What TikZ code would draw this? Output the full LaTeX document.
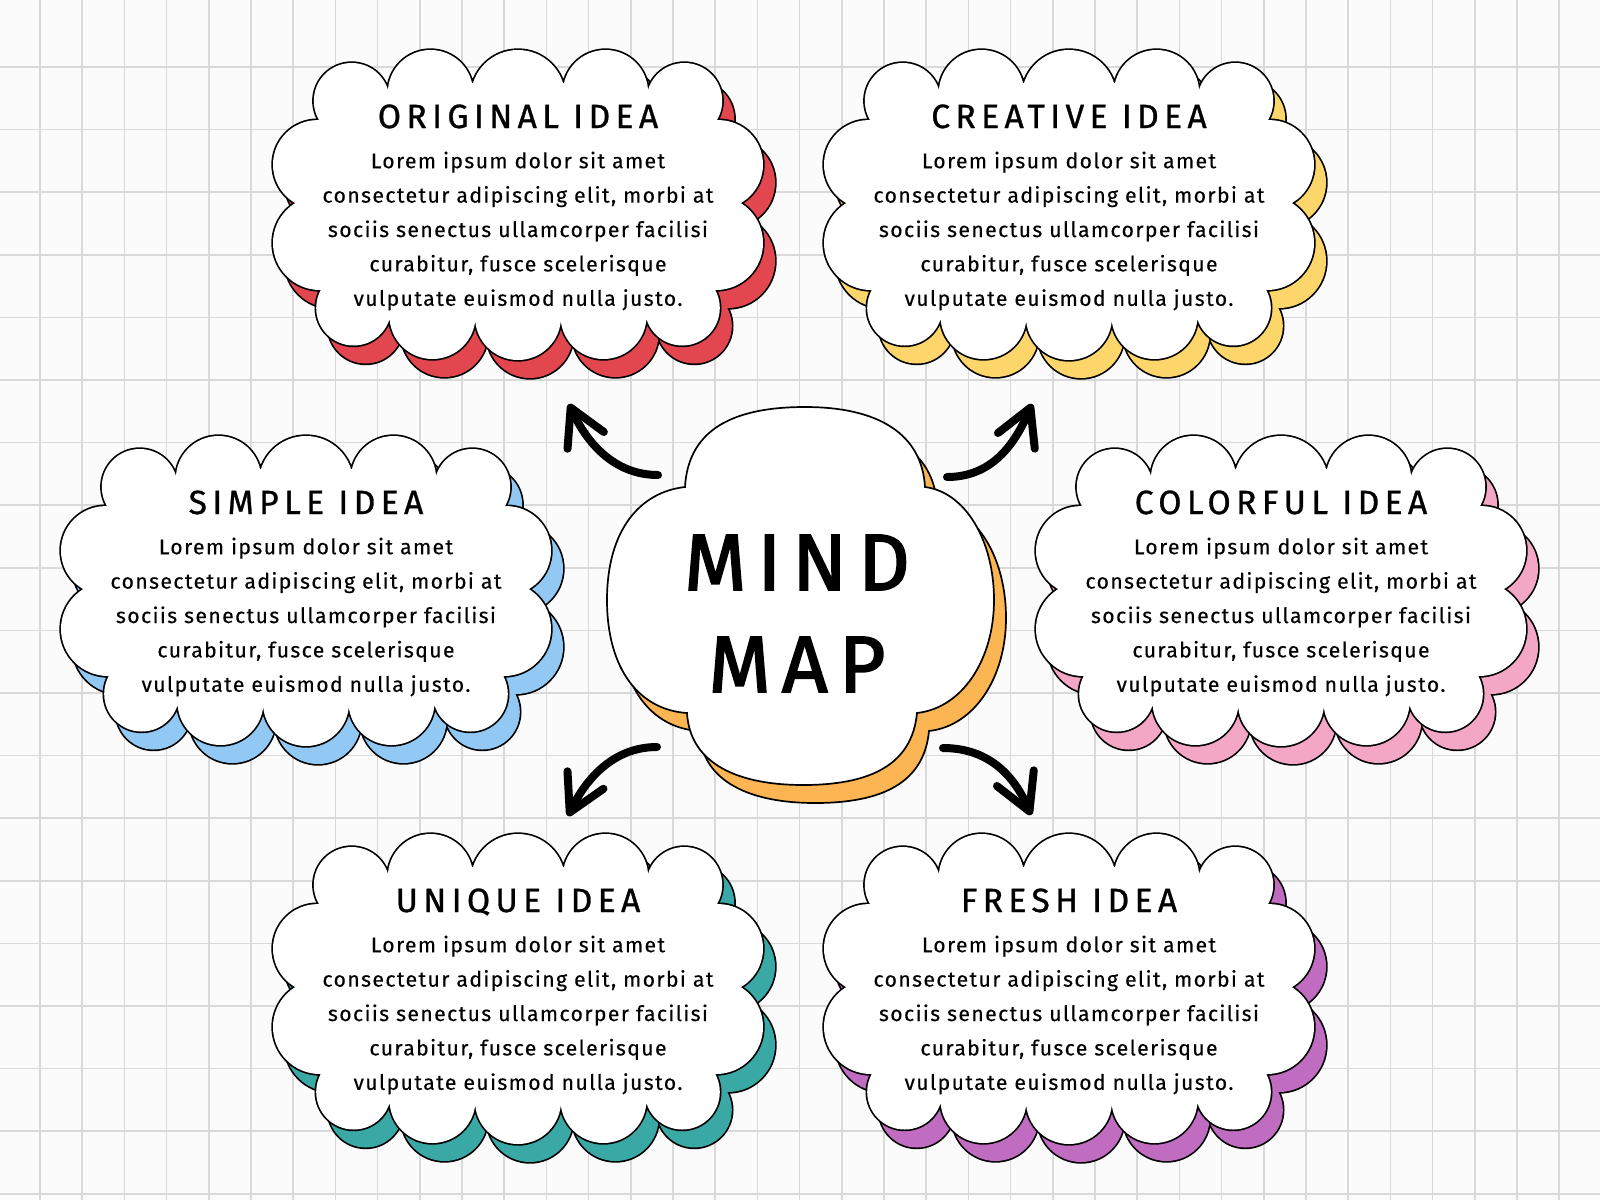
\documentclass[tikz,border=0pt]{standalone}
\usepackage{fontspec}
\setmainfont{Fira Sans}
\newfontfamily\ttlfont[LetterSpace=16,FakeBold=0.9]{Fira Sans}
\newfontfamily\bdyfont[LetterSpace=6.5,FakeBold=0.3]{Fira Sans}
\newfontfamily\bigfont[LetterSpace=14,FakeBold=2.2]{Fira Sans}
\usetikzlibrary{arrows.meta,calc}
\definecolor{bgcol}{HTML}{FBFBFB}
\definecolor{gridcol}{HTML}{D9D9D9}
\definecolor{cred}{HTML}{E2474F}
\definecolor{cyellow}{HTML}{FCD66A}
\definecolor{cblue}{HTML}{92C9F4}
\definecolor{cpink}{HTML}{F4A7C5}
\definecolor{cteal}{HTML}{3AA8A5}
\definecolor{cpurple}{HTML}{C06CC1}
\definecolor{corange}{HTML}{FBB552}
\newcommand\cloudcircles{(-166.3,-99.1) circle[radius=37.9] (-87.5,-107.4) circle[radius=42.6] (0,-102.8) circle[radius=47.2] (87.5,-107.4) circle[radius=42.6] (166.3,-99.1) circle[radius=37.9] (200.5,-35.4) circle[radius=44.5] (198,43) circle[radius=47] (164.3,108) circle[radius=37.5] (85.5,116) circle[radius=43] (0,117) circle[radius=43] (-85.5,116) circle[radius=43] (-164.3,108) circle[radius=37.5] (-198,43) circle[radius=47] (-200.5,-35.4) circle[radius=44.5]}
\newcommand\cloudpoly{(-199,-80) -- (-130,-110) -- (-45,-117) -- (45,-117) -- (130,-110) -- (199,-80) -- (223,3) -- (197,90) -- (128,118) -- (43,120) -- (-43,120) -- (-128,118) -- (-197,90) -- (-223,3) -- cycle}
\newcommand\centrepath{(685,487) .. controls (688,435) and (725,407) .. (805,407) .. controls (880,407) and (922,435) .. (925,487) .. controls (965,492) and (994,540) .. (994,600) .. controls (994,660) and (962,708) .. (917,713) .. controls (912,765) and (870,785) .. (803,785) .. controls (740,785) and (690,765) .. (687,713) .. controls (640,710) and (607,670) .. (607,600) .. controls (607,530) and (640,492) .. (685,487) -- cycle}
\newcommand\ideacloud[3]{%
  \begin{scope}[shift={(#1+12,#2+18)}]
    \draw[cloudline] \cloudcircles;
    \fill[#3] \cloudcircles;
    \fill[#3] \cloudpoly;
  \end{scope}
  \begin{scope}[shift={(#1,#2)}]
    \draw[cloudline] \cloudcircles;
    \fill[white] \cloudcircles;
    \fill[white] \cloudpoly;
  \end{scope}}
\newcommand\loremtext{Lorem ipsum dolor sit amet\\consectetur adipiscing elit, morbi at\\sociis senectus ullamcorper facilisi\\curabitur, fusce scelerisque\\vulputate euismod nulla justo.}
\begin{document}
\begin{tikzpicture}[x=0.5pt,y=-0.5pt,
  cloudline/.style={draw=black,line width=1.7pt},
  gridline/.style={draw=gridcol,line width=0.8pt},
  ttl/.style={font=\ttlfont\fontsize{16.8}{20}\selectfont,anchor=base,inner sep=0pt},
  bdy/.style={font=\bdyfont\fontsize{10.6}{17.2}\selectfont,align=center,inner sep=0pt},
  arr/.style={line width=4pt,line cap=round,-{Straight Barb[length=18pt,width=20pt,round]}}]
\useasboundingbox (0,0) rectangle (1600,1200);
\fill[bgcol] (0,0) rectangle (1600,1200);
\foreach \k in {0,...,37} \draw[gridline] ({40+42.2*\k},0) -- ({40+42.2*\k},1200);
\foreach \k in {0,...,18} \draw[gridline] (0,{67+62.6*\k}) -- (1600,{67+62.6*\k});
% idea clouds
\ideacloud{518}{200}{cred}
\ideacloud{1069}{200}{cyellow}
\ideacloud{306}{586}{cblue}
\ideacloud{1281}{586}{cpink}
\ideacloud{518}{984}{cteal}
\ideacloud{1069}{984}{cpurple}
% centre cloud
\begin{scope}[shift={(12,18)}]
  \filldraw[fill=corange,draw=black,line width=0.85pt] \centrepath;
\end{scope}
\filldraw[fill=white,draw=black,line width=0.85pt] \centrepath;
\node[font=\bigfont\fontsize{40}{51}\selectfont,align=center,inner sep=0pt] (centre) at (797,613.5) {MIND\\MAP};
% titles and texts
\node[ttl] (t1) at (518,128) {ORIGINAL IDEA};
\node[bdy] (b1) at (518,231) {\loremtext};
\node[ttl] (t2) at (1069,128) {CREATIVE IDEA};
\node[bdy] (b2) at (1069,231) {\loremtext};
\node[ttl] (t3) at (306,514) {SIMPLE IDEA};
\node[bdy] (b3) at (306,617) {\loremtext};
\node[ttl] (t4) at (1281,514) {COLORFUL IDEA};
\node[bdy] (b4) at (1281,617) {\loremtext};
\node[ttl] (t5) at (518,912) {UNIQUE IDEA};
\node[bdy] (b5) at (518,1015) {\loremtext};
\node[ttl] (t6) at (1069,912) {FRESH IDEA};
\node[bdy] (b6) at (1069,1015) {\loremtext};
% arrows
\coordinate (a1s) at (658,475); \coordinate (a1e) at (569,404);
\coordinate (a2s) at (947,477); \coordinate (a2e) at (1032,404);
\coordinate (a3s) at (657,747); \coordinate (a3e) at (568,816);
\coordinate (a4s) at (943,748); \coordinate (a4e) at (1031,815);
\draw[arr] (a1s) .. controls ($(a1s)+(-45,0)$) and ($(a1e)+(17,37)$) .. (a1e);
\draw[arr] (a2s) .. controls ($(a2s)+(45,0)$) and ($(a2e)+(-17,40)$) .. (a2e);
\draw[arr] (a3s) .. controls ($(a3s)+(-45,0)$) and ($(a3e)+(17,-35)$) .. (a3e);
\draw[arr] (a4s) .. controls ($(a4s)+(45,0)$) and ($(a4e)+(-17,-40)$) .. (a4e);
\end{tikzpicture}
\end{document}
